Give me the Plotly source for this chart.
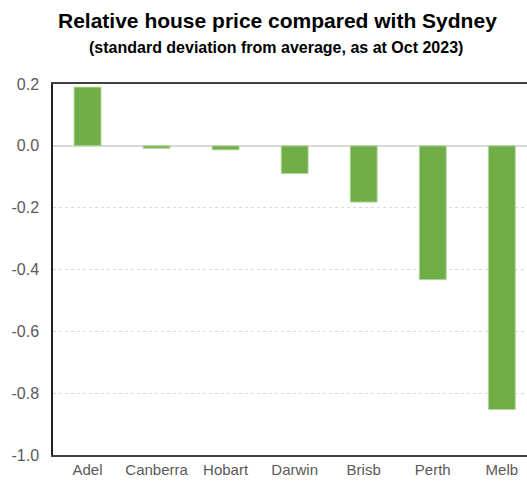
import plotly.graph_objects as go

categories = ["Adel", "Canberra", "Hobart", "Darwin", "Brisb", "Perth", "Melb"]
values = [0.19, -0.008, -0.013, -0.09, -0.182, -0.433, -0.853]
y_ticks = [0.2, 0.0, -0.2, -0.4, -0.6, -0.8, -1.0]
y_tick_labels = ["0.2", "0.0", "-0.2", "-0.4", "-0.6", "-0.8", "-1.0"]
title = "Relative house price compared with Sydney"
subtitle = "(standard deviation from average, as at Oct 2023)"

FONT = "Liberation Sans Narrow, Arial Narrow, Liberation Sans, Arial, sans-serif"

fig = go.Figure(go.Bar(
    x=categories, y=values,
    marker=dict(color="#70AD47", line=dict(color="#b5d7a0", width=1)),
    width=0.39,
))

fig.update_layout(
    width=527, height=486,
    margin=dict(l=53, r=0, t=84, b=31, autoexpand=False),
    paper_bgcolor="white", plot_bgcolor="white",
    showlegend=False,
    font=dict(family=FONT, color="#595959"),
    annotations=[
        dict(text="<b>" + title + "</b>", xref="paper", yref="paper",
             x=(277 - 53) / 474, y=1, yshift=84 - 20, xanchor="center", yanchor="middle",
             showarrow=False, font=dict(family=FONT, size=21, color="black")),
        dict(text="<b>" + subtitle + "</b>", xref="paper", yref="paper",
             x=(276 - 53) / 474, y=1, yshift=84 - 47, xanchor="center", yanchor="middle",
             showarrow=False, font=dict(family=FONT, size=16, color="black")),
    ],
)

fig.update_xaxes(
    range=[-0.5, 6.365],
    showline=True, linecolor="#404040", linewidth=2, mirror=True,
    showgrid=False, ticks="", automargin=False,
    tickfont=dict(size=15, color="#595959"),
)
fig.update_yaxes(
    range=[-1.0, 0.2],
    tickvals=y_ticks, ticktext=y_tick_labels,
    showline=True, linecolor="#202020", linewidth=1.5,
    showgrid=True, gridcolor="#d9d9d9", griddash="dot", gridwidth=1,
    zeroline=True, zerolinecolor="#d9d9d9", zerolinewidth=2,
    ticks="", ticklabelstandoff=9, automargin=False,
    tickfont=dict(size=16, color="#595959"),
)

fig.write_html("out.html", config={"displayModeBar": False},
               post_script="document.body.style.margin='0';document.body.style.overflow='hidden';")
